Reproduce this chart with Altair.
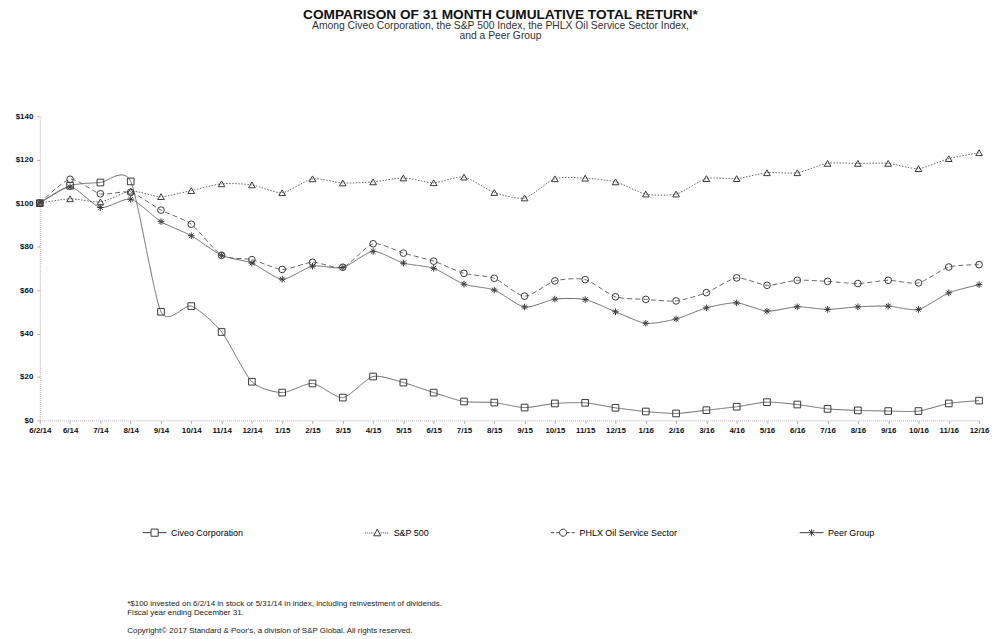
import altair as alt
import pandas as pd

months = ["6/2/14", "6/14", "7/14", "8/14", "9/14", "10/14", "11/14", "12/14",
          "1/15", "2/15", "3/15", "4/15", "5/15", "6/15", "7/15", "8/15", "9/15",
          "10/15", "11/15", "12/15", "1/16", "2/16", "3/16", "4/16", "5/16", "6/16",
          "7/16", "8/16", "9/16", "10/16", "11/16", "12/16"]

civeo = [100, 108, 109.5, 110, 50, 52.6, 40.7, 17.8, 12.8, 17, 10.5, 20.2,
         17.4, 12.8, 8.7, 8.2, 5.9, 7.8, 8.1, 5.8, 4.1, 3.2, 4.7, 6.3,
         8.4, 7.3, 5.3, 4.6, 4.3, 4.3, 7.8, 9.1]
sp500 = [100, 102, 100.6, 105.5, 103, 105.8, 108.9, 108.4, 104.8, 111.2, 109.3, 109.8,
         111.6, 109.4, 112, 104.9, 102.4, 111.2, 111.5, 109.8, 104.2, 104.2, 111.3, 111.3,
         114, 114, 118.3, 118.3, 118.3, 115.9, 120.5, 123.2]
phlx = [100, 111, 104.3, 105, 96.8, 90.3, 76, 74, 69.5, 72.8, 70.5, 81.3,
        77, 73.3, 67.7, 65.4, 57.2, 64.2, 64.8, 56.9, 55.7, 55, 58.8, 65.6,
        62.2, 64.5, 64, 63, 64.5, 63.3, 70.6, 71.7]
peer = [100, 107.5, 98, 101.8, 91.5, 85, 76, 72.4, 65, 71, 70.4, 77.8,
        72.4, 70, 62.7, 60, 52.2, 55.8, 55.6, 50, 44.7, 46.7, 51.8, 54.1,
        50.3, 52.3, 51.1, 52.3, 52.6, 51.1, 58.7, 62.5]

series_names = ["Civeo Corporation", "S&P 500", "PHLX Oil Service Sector", "Peer Group"]
series_values = [civeo, sp500, phlx, peer]

title_text = "COMPARISON OF 31 MONTH CUMULATIVE TOTAL RETURN*"
subtitle_lines = ["Among Civeo Corporation, the S&P 500 Index, the PHLX Oil Service Sector Index,",
                  "and a Peer Group"]
footnote_lines = ["*$100 invested on 6/2/14 in stock or 5/31/14 in index, including reinvestment of dividends.",
                  "Fiscal year ending December 31."]
copyright_line = "Copyright\u00a9 2017 Standard & Poor's, a division of S&P Global.  All rights reserved."

rows = []
for name, vals in zip(series_names, series_values):
    for m, v in zip(months, vals):
        rows.append({"month": m, "value": v, "series": name})
df = pd.DataFrame(rows)

# ---- styles ----
AXIS_COL = "#b9a9bd"
LINE_COL = "#6a6a6a"
MARK_COL = "#3a3a3a"
asterisk = "M-1,0L1,0M0,-1L0,1M-0.7,-0.7L0.7,0.7M-0.7,0.7L0.7,-0.7"
marker_shapes = ["square", "triangle-up", "circle", asterisk]
dashes = [[1, 0], [1.5, 1.5], [5, 3], [1, 0]]


def seg_path(x0, x1, on, off):
    parts = []
    x = x0
    while x < x1 - 1e-6:
        e = min(x + on, x1)
        parts.append("M%.3f,0L%.3f,0" % (x, e))
        x = e + off
    return "".join(parts)


u = 1 / 12.0  # one pixel in legend symbol units (symbol width 24px)
sq = "M-0.3,-0.3L0.3,-0.3L0.3,0.3L-0.3,0.3Z"
tri = "M0,-0.32L0.3,0.24L-0.3,0.24Z"
circ = "M0.3,0A0.3,0.3 0 1,1 -0.3,0A0.3,0.3 0 1,1 0.3,0Z"
ast = "M-0.3,0L0.3,0M0,-0.3L0,0.3M-0.22,-0.22L0.22,0.22M-0.22,0.22L0.22,-0.22"
legend_paths = [
    seg_path(-1, -0.3, 2, 0) + seg_path(0.3, 1, 2, 0) + sq,
    seg_path(-1, -0.3, 1 * u, 1 * u) + seg_path(0.3, 1, 1 * u, 1 * u) + tri,
    seg_path(-1, -0.3, 3 * u, 2 * u) + seg_path(0.3, 1, 3 * u, 2 * u) + circ,
    seg_path(-1, -0.3, 2, 0) + seg_path(0.3, 1, 2, 0) + ast,
]

W, H = 945, 306

base = alt.Chart(df).encode(
    x=alt.X("month:N", sort=months, scale=alt.Scale(padding=0),
            axis=alt.Axis(title=None, labelAngle=0, labelFont="Liberation Sans",
                          labelFontWeight="bold", labelFontSize=8, labelColor="#111",
                          labelPadding=3, tickSize=3, tickColor=AXIS_COL,
                          domainColor=AXIS_COL, domainDash=[1, 1], grid=False)),
    y=alt.Y("value:Q", scale=alt.Scale(domain=[0, 140]),
            axis=alt.Axis(title=None, values=[0, 20, 40, 60, 80, 100, 120, 140],
                          labelExpr="'$' + datum.value", labelFont="Liberation Sans",
                          labelFontWeight="bold", labelFontSize=8, labelColor="#111",
                          labelPadding=4, tickSize=3, tickColor=AXIS_COL,
                          domainColor=AXIS_COL, domainDash=[1, 1], grid=False)),
)

lines = base.mark_line(interpolate="cardinal", tension=0.3, strokeWidth=1, color=LINE_COL).encode(
    strokeDash=alt.StrokeDash("series:N", scale=alt.Scale(domain=series_names, range=dashes),
                              legend=None),
    detail="series:N",
)

points = base.mark_point(filled=False, color=MARK_COL, strokeWidth=1, opacity=1, size=45).encode(
    shape=alt.Shape("series:N", scale=alt.Scale(domain=series_names, range=marker_shapes),
                    legend=None),
)

legend_layer = base.mark_point(filled=False, color=MARK_COL, strokeWidth=1, opacity=1).encode(
    shape=alt.Shape("series:N", scale=alt.Scale(domain=series_names, range=legend_paths),
                    legend=alt.Legend(title=None, orient="none", legendX=103, legendY=406,
                                      direction="horizontal", columns=4, columnPadding=120,
                                      symbolSize=576, symbolStrokeWidth=1,
                                      symbolStrokeColor=MARK_COL, symbolFillColor="transparent",
                                      symbolOpacity=1, labelOffset=4, padding=0,
                                      labelFont="Liberation Sans",
                                      labelFontSize=9, labelFontWeight="normal", labelColor="#000",
                                      labelLimit=300)),
).transform_filter("false")

note_src = pd.DataFrame({"k": [0]})
notes = alt.Chart(note_src).mark_text(
    align="left", baseline="top", font="Liberation Sans", fontSize=8, lineHeight=8.5,
    color="#222", text=footnote_lines,
).encode(x=alt.value(88), y=alt.value(487))

copyright_note = alt.Chart(note_src).mark_text(
    align="left", baseline="top", font="Liberation Sans", fontSize=8,
    color="#222", text=copyright_line,
).encode(x=alt.value(88), y=alt.value(514))

chart = alt.layer(lines, points, legend_layer, notes, copyright_note).resolve_scale(
    shape="independent"
).properties(
    width=W, height=H,
    autosize=alt.AutoSizeParams(type="none"),
    padding={"left": 32, "top": 107, "right": 12, "bottom": 215},
    title=alt.Title(text=title_text, subtitle=subtitle_lines, anchor="middle", frame="group",
                    font="Liberation Sans", fontSize=13.75, fontWeight="bold", color="#111",
                    subtitleFont="Liberation Sans", subtitleFontSize=10.4, subtitleColor="#333",
                    subtitleLineHeight=10, subtitlePadding=0, offset=71, dx=-9),
).configure_view(strokeWidth=0)

chart.save("out.html", embed_options={"renderer": "svg", "actions": False})
